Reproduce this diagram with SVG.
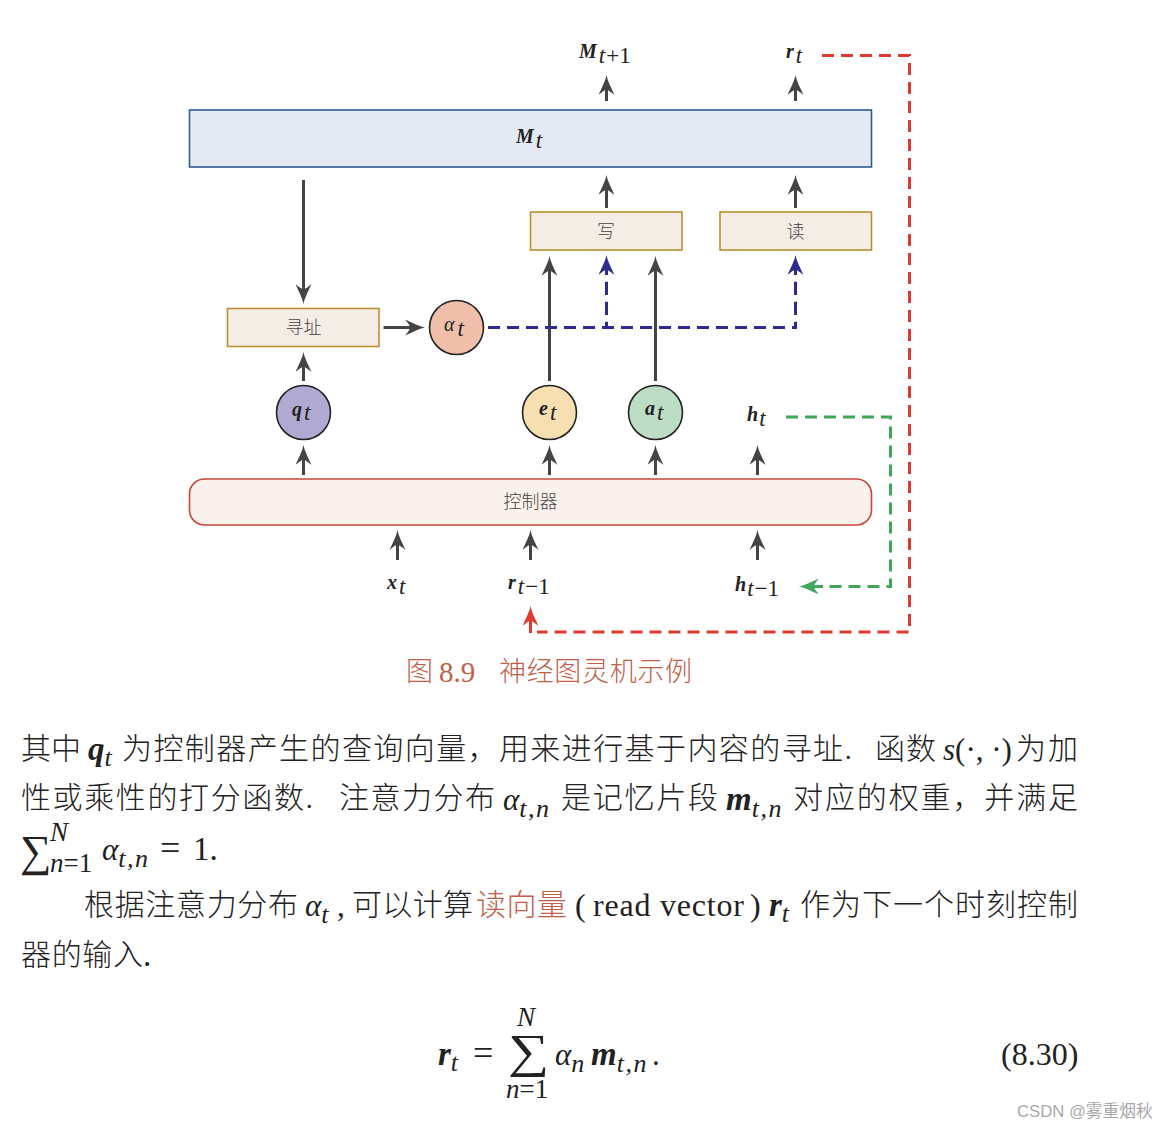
<svg xmlns="http://www.w3.org/2000/svg" width="1169" height="1129" viewBox="0 0 1169 1129">
<style>
text{font-family:"Liberation Serif","Noto Sans CJK SC",serif;fill:#222}
.cjk{font-family:"Noto Sans CJK SC","Liberation Sans",sans-serif;font-weight:300}
.b{font-weight:bold;font-style:italic}
.i{font-style:italic}
.lab{font-size:20px}
.sub{font-size:23px}
.nl{font-size:18px;fill:#444;text-anchor:middle}
.box{fill:#f4ede6;stroke:#b98f30;stroke-width:1.6}
.circ{stroke:#222;stroke-width:1.6}
.a{fill:none;stroke:#444;stroke-width:3;marker-end:url(#ag)}
.d{fill:none;stroke-width:3;stroke-dasharray:12 7}
.t{font-size:30px}
.ts{font-size:26px;letter-spacing:1.5px}
.lim{font-size:27px}
.red{fill:#c0604a}
</style>
<defs>
<path id="head" d="M20,8 C14,7 7,3 0,0 C3,3.5 5,6 5,8 C5,10 3,12.5 0,16 C7,13 14,9 20,8Z"/>
<marker id="ag" markerUnits="userSpaceOnUse" markerWidth="20" markerHeight="16" viewBox="0 0 20 16" refX="6" refY="8" orient="auto"><use href="#head" fill="#444"/></marker>
<marker id="ab" markerUnits="userSpaceOnUse" markerWidth="20" markerHeight="16" viewBox="0 0 20 16" refX="6" refY="8" orient="auto"><use href="#head" fill="#2e2a8e"/></marker>
<marker id="ar" markerUnits="userSpaceOnUse" markerWidth="20" markerHeight="16" viewBox="0 0 20 16" refX="6" refY="8" orient="auto"><use href="#head" fill="#e0392f"/></marker>
<marker id="agr" markerUnits="userSpaceOnUse" markerWidth="20" markerHeight="16" viewBox="0 0 20 16" refX="6" refY="8" orient="auto"><use href="#head" fill="#3fa65c"/></marker>
</defs>

<g id="connectors">
<path class="a" d="M606.5,101V89"/>
<path class="a" d="M795.5,101V89"/>
<path class="a" d="M606.5,208V189"/>
<path class="a" d="M795.5,208V189"/>
<path class="a" d="M303.5,180V290"/>
<path class="a" d="M383.5,327.5H411"/>
<path class="a" d="M303.5,381V366"/>
<path class="a" d="M549.5,381V270"/>
<path class="a" d="M655.5,381V270"/>
<path class="a" d="M303.5,475V459"/>
<path class="a" d="M549.5,475V459"/>
<path class="a" d="M655.5,475V459"/>
<path class="a" d="M757.5,475V459"/>
<path class="a" d="M397.5,560V544"/>
<path class="a" d="M530.5,560V544"/>
<path class="a" d="M757.5,560V544"/>
<path class="d" stroke="#2e2a8e" d="M488,327.5H797"/>
<path fill="none" stroke="#2e2a8e" stroke-width="3" d="M606.5,327.5V321.7M606.5,315V301.7M606.5,295V281.7M795.5,327.5V321.7M795.5,315V301.7M795.5,295V281.7"/>
<path fill="none" stroke="#2e2a8e" stroke-width="3" marker-end="url(#ab)" d="M606.5,275V269"/>
<path fill="none" stroke="#2e2a8e" stroke-width="3" marker-end="url(#ab)" d="M795.5,275V269"/>
<path class="d" stroke="#e0392f" d="M822,55.5H909.5V632H537"/>
<path fill="none" stroke="#e0392f" stroke-width="3" marker-end="url(#ar)" d="M530.5,633V620"/>
<path class="d" stroke="#3fa65c" d="M786,417H890.5V586.5H825"/>
<path fill="none" stroke="#3fa65c" stroke-width="3" marker-end="url(#agr)" d="M823,586.5H813"/>
</g>

<g id="node-memory">
<rect x="189.5" y="110" width="682" height="57" fill="#e5e9f4" stroke="#2f5a94" stroke-width="1.6"/>
<text x="516" y="143" class="lab"><tspan class="b">M</tspan><tspan class="i sub" dy="5" dx="2">t</tspan></text>
</g>
<g id="node-write">
<rect class="box" x="530.5" y="212" width="151.5" height="38"/>
<text x="606" y="238" class="nl cjk">写</text>
</g>
<g id="node-read">
<rect class="box" x="720" y="212" width="151.5" height="38"/>
<text x="795.5" y="238" class="nl cjk">读</text>
</g>
<g id="node-address">
<rect class="box" x="227.5" y="308.5" width="151.5" height="38"/>
<text x="303.5" y="333.5" class="nl cjk">寻址</text>
</g>
<g id="node-alpha">
<circle class="circ" cx="456.5" cy="327.5" r="27" fill="#efbfa9"/>
<text x="444" y="331" class="lab"><tspan class="i">α</tspan><tspan class="i sub" dy="5" dx="3">t</tspan></text>
</g>
<g id="node-q">
<circle class="circ" cx="303.5" cy="412.5" r="27" fill="#b0aad2"/>
<text x="292" y="416" class="lab"><tspan class="b">q</tspan><tspan class="i sub" dy="4" dx="2">t</tspan></text>
</g>
<g id="node-e">
<circle class="circ" cx="549.5" cy="412.5" r="27" fill="#f8dfb2"/>
<text x="539" y="415" class="lab"><tspan class="b">e</tspan><tspan class="i sub" dy="5" dx="2">t</tspan></text>
</g>
<g id="node-a">
<circle class="circ" cx="655.5" cy="412.5" r="27" fill="#bcdcc5"/>
<text x="645" y="415" class="lab"><tspan class="b">a</tspan><tspan class="i sub" dy="5" dx="2">t</tspan></text>
</g>
<g id="node-controller">
<rect x="189.5" y="479" width="682" height="46" rx="15" fill="#faf1ec" stroke="#c8473a" stroke-width="1.6"/>
<text x="530.5" y="508" class="nl cjk">控制器</text>
</g>
<g id="labels">
<text x="579" y="58" class="lab"><tspan class="b">M</tspan><tspan class="i sub" dy="5" dx="2">t</tspan><tspan class="sub" dx="1">+1</tspan></text>
<text x="786" y="58" class="lab"><tspan class="b">r</tspan><tspan class="i sub" dy="5" dx="2">t</tspan></text>
<text x="747" y="421" class="lab"><tspan class="b">h</tspan><tspan class="i sub" dy="5" dx="1">t</tspan></text>
<text x="387" y="589" class="lab"><tspan class="b">x</tspan><tspan class="i sub" dy="5" dx="2">t</tspan></text>
<text x="508" y="589" class="lab"><tspan class="b">r</tspan><tspan class="i sub" dy="5" dx="2">t</tspan><tspan class="sub" dx="1">−1</tspan></text>
<text x="735" y="591" class="lab"><tspan class="b">h</tspan><tspan class="i sub" dy="5" dx="1">t</tspan><tspan class="sub" dx="1">−1</tspan></text>
</g>

<g id="caption">
<text x="406" y="681" class="cjk red" font-size="27">图</text>
<text x="439" y="682" class="red" font-size="29">8.9</text>
<text x="499" y="681" class="cjk red" font-size="27" textLength="193">神经图灵机示例</text>
</g>

<g id="body">
<text x="21" y="759" class="cjk t" textLength="60">其中</text>
<text x="88" y="760" font-size="33"><tspan class="b">q</tspan><tspan class="i ts" dy="6">t</tspan></text>
<text x="122" y="759" class="cjk t" textLength="730">为控制器产生的查询向量，用来进行基于内容的寻址.</text>
<text x="875" y="759" class="cjk t" textLength="61">函数</text>
<text x="943" y="760" font-size="31"><tspan class="i">s</tspan><tspan>(·, ·)</tspan></text>
<text x="1016" y="759" class="cjk t" textLength="62">为加</text>

<text x="21" y="808" class="cjk t" textLength="292">性或乘性的打分函数.</text>
<text x="339" y="808" class="cjk t" textLength="156">注意力分布</text>
<text x="503" y="810" font-size="31"><tspan class="i">α</tspan><tspan class="i ts" dy="7">t,n</tspan></text>
<text x="561" y="808" class="cjk t" textLength="157">是记忆片段</text>
<text x="726" y="810" font-size="33"><tspan class="b">m</tspan><tspan class="i ts" dy="7">t,n</tspan></text>
<text x="793" y="808" class="cjk t" textLength="285">对应的权重，并满足</text>

<text x="20" y="866" font-size="44">∑</text>
<text x="50" y="841" class="i lim">N</text>
<text x="50" y="872" class="lim"><tspan class="i">n</tspan>=1</text>
<text x="102" y="860" font-size="31"><tspan class="i">α</tspan><tspan class="i ts" dy="7">t,n</tspan></text>
<text x="160" y="860" font-size="36">=</text>
<text x="193" y="860" font-size="33">1.</text>

<text x="84" y="915" class="cjk t" textLength="214">根据注意力分布</text>
<text x="305" y="916" font-size="31"><tspan class="i">α</tspan><tspan class="i ts" dy="7">t</tspan></text>
<text x="337" y="916" font-size="31">,</text>
<text x="352" y="915" class="cjk t" textLength="121">可以计算</text>
<text x="476" y="915" class="cjk t red" textLength="91">读向量</text>
<text x="575" y="916" font-size="32">(</text>
<text x="593" y="916" font-size="32" textLength="151">read vector</text>
<text x="750" y="916" font-size="32">)</text>
<text x="769" y="916" font-size="33"><tspan class="b">r</tspan><tspan class="i ts" dy="6">t</tspan></text>
<text x="800" y="915" class="cjk t" textLength="278">作为下一个时刻控制</text>

<text x="21" y="965" class="cjk t" textLength="122">器的输入</text>
<text x="143" y="966" font-size="33">.</text>
</g>

<g id="equation">
<text x="438" y="1065" font-size="33"><tspan class="b">r</tspan><tspan class="i ts" dy="6">t</tspan></text>
<text x="473" y="1065" font-size="36">=</text>
<text transform="translate(508,1067) scale(1,0.82)" font-size="58">∑</text>
<text x="517" y="1026" class="i lim">N</text>
<text x="506" y="1098" class="lim"><tspan class="i">n</tspan>=1</text>
<text x="555" y="1065" font-size="31"><tspan class="i">α</tspan><tspan class="i ts" dy="7">n</tspan></text>
<text x="591" y="1065" font-size="33"><tspan class="b">m</tspan><tspan class="i ts" dy="7">t,n</tspan></text>
<text x="652" y="1065" font-size="31">.</text>
<text x="1001" y="1065" font-size="32">(8.30)</text>
</g>

<text id="watermark" x="1017" y="1117" font-size="16.7" style="font-family:'Liberation Sans','Noto Sans CJK SC',sans-serif;fill:#a8a8a8">CSDN @雾重烟秋</text>
</svg>
